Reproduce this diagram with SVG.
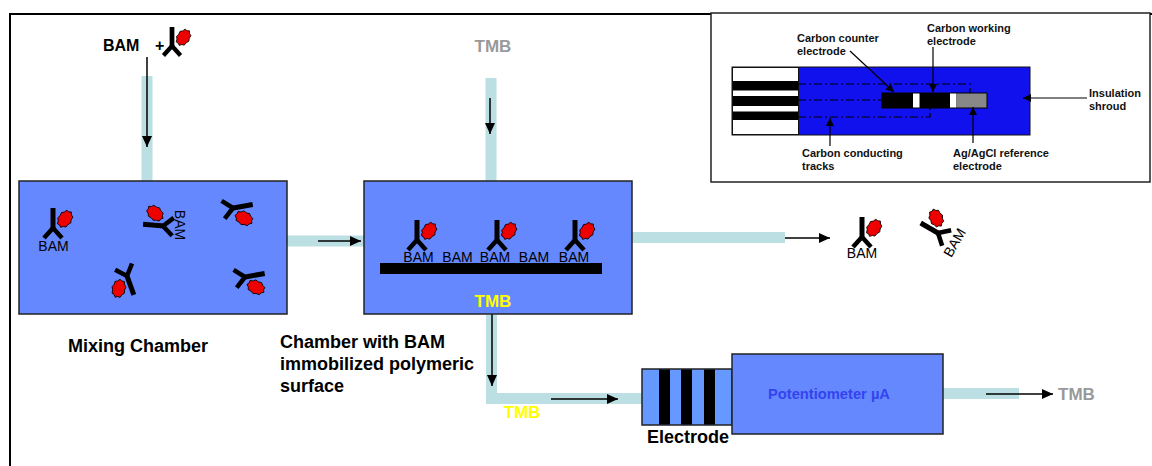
<svg xmlns="http://www.w3.org/2000/svg" xmlns:xlink="http://www.w3.org/1999/xlink" width="1152" height="466" viewBox="0 0 1152 466">
  <style>
    .box { fill: #6688FF; stroke: #222; stroke-width: 1.5; }
    .pipe { fill: none; stroke: #BCDFE3; stroke-width: 11; stroke-linejoin: miter; stroke-linecap: butt; }
    .arr { fill: none; stroke: #000; stroke-width: 1.5; marker-end: url(#ah); }
    .lead { fill: none; stroke: #000; stroke-width: 1.2; marker-end: url(#ahs); }
    .track { fill: none; stroke: #000; stroke-width: 1.2; stroke-dasharray: 8 3 2 3; }
    .lbl { font-family: "Liberation Sans", Arial, sans-serif; font-weight: bold; fill: #000; }
    .bam { font-family: "Liberation Sans", Arial, sans-serif; font-size: 14px; fill: #000; }
    .small { font-family: "Liberation Sans", Arial, sans-serif; font-size: 11px; font-weight: bold; fill: #111; }
    .tmbg { font-family: "Liberation Sans", Arial, sans-serif; font-size: 17px; font-weight: bold; fill: #999; }
    .tmby { font-family: "Liberation Sans", Arial, sans-serif; font-size: 17px; font-weight: bold; fill: #FFFF00; }
  </style>
  <defs>
    <marker id="ah" markerUnits="userSpaceOnUse" markerWidth="11" markerHeight="10" refX="11" refY="5" orient="auto">
      <path d="M0,0 L11,5 L0,10 Z" fill="#000"/>
    </marker>
    <marker id="ahs" markerUnits="userSpaceOnUse" markerWidth="8" markerHeight="8" refX="8" refY="4" orient="auto">
      <path d="M0,0 L8,4 L0,8 Z" fill="#000"/>
    </marker>
    <!-- antibody (Y) with bound antigen; origin at the fork -->
    <g id="ab">
      <line x1="0" y1="1" x2="0" y2="-20" stroke="#000" stroke-width="5"/>
      <line x1="0" y1="0" x2="-9" y2="10" stroke="#000" stroke-width="4.5"/>
      <line x1="0" y1="0" x2="9" y2="10" stroke="#000" stroke-width="4.5"/>
      <polygon transform="translate(12,-9) rotate(35)" fill="#EE0000" stroke="#000" stroke-width="0.8"
        points="7,0 5.59,2.77 5.36,6.11 2.98,7.01 1.22,9.36 -1.03,7.98 -3.5,8.23 -4.56,5.21 -6.58,3.25 -5.95,0 -6.58,-3.25 -4.56,-5.21 -3.5,-8.23 -1.03,-7.98 1.22,-9.36 2.98,-7.01 5.36,-6.11 5.59,-2.77"/>
    </g>
  </defs>

  <rect width="1152" height="466" fill="#fff"/>
  <!-- outer frame -->
  <path d="M10,466 V14 H1152" fill="none" stroke="#000" stroke-width="2"/>

  <!-- connectors -->
  <g id="connectors">
    <line class="pipe" x1="147" y1="76" x2="147" y2="181"/>
    <line class="arr" x1="147" y1="57" x2="147" y2="147"/>
    <line class="pipe" x1="491" y1="78" x2="491" y2="181"/>
    <line class="arr" x1="490" y1="98" x2="490" y2="134"/>
    <line class="pipe" x1="287" y1="241" x2="364" y2="241"/>
    <line class="arr" x1="318" y1="241" x2="361" y2="241"/>
    <line class="pipe" x1="632" y1="237.5" x2="785" y2="237.5"/>
    <line class="arr" x1="785" y1="238" x2="830" y2="238"/>
    <polyline class="pipe" points="491.5,315 491.5,398.5 643,398.5"/>
    <line class="arr" x1="492" y1="308" x2="492" y2="386"/>
    <line class="arr" x1="551" y1="399" x2="618" y2="399"/>
    <line class="pipe" x1="943" y1="393.5" x2="1019" y2="393.5"/>
    <line class="arr" x1="986" y1="394" x2="1053" y2="394"/>
  </g>

  <!-- BAM + antibody input -->
  <g id="input-bam">
    <text class="lbl" x="103" y="51" font-size="16">BAM</text>
    <text class="lbl" x="155" y="51" font-size="16">+</text>
    <use xlink:href="#ab" transform="translate(172,46) scale(0.95)"/>
  </g>

  <text id="input-tmb" class="tmbg" x="493" y="52" text-anchor="middle">TMB</text>

  <!-- mixing chamber -->
  <g id="mixing-chamber">
    <rect class="box" x="19" y="181" width="268" height="133"/>
    <use xlink:href="#ab" transform="translate(53,228)"/>
    <text class="bam" x="53.5" y="251" text-anchor="middle">BAM</text>
    <use xlink:href="#ab" transform="translate(163,226) rotate(-85)"/>
    <text class="bam" transform="translate(175,225) rotate(90)" text-anchor="middle">BAM</text>
    <use xlink:href="#ab" transform="translate(233,208) rotate(80)"/>
    <use xlink:href="#ab" transform="translate(127,276) rotate(160)"/>
    <use xlink:href="#ab" transform="translate(245,277) rotate(80)"/>
    <text class="lbl" x="68" y="352" font-size="18">Mixing Chamber</text>
  </g>

  <!-- chamber with immobilized surface -->
  <g id="bam-chamber">
    <rect class="box" x="364" y="181" width="268" height="133"/>
    <rect x="380" y="263" width="222" height="11" fill="#000"/>
    <use xlink:href="#ab" transform="translate(417,240)"/>
    <use xlink:href="#ab" transform="translate(497,240)"/>
    <use xlink:href="#ab" transform="translate(575,240)"/>
    <text class="bam" x="418.5" y="262" text-anchor="middle">BAM</text>
    <text class="bam" x="457.5" y="262" text-anchor="middle">BAM</text>
    <text class="bam" x="495" y="262" text-anchor="middle">BAM</text>
    <text class="bam" x="534" y="262" text-anchor="middle">BAM</text>
    <text class="bam" x="574" y="262" text-anchor="middle">BAM</text>
    <text class="tmby" x="493" y="307" text-anchor="middle">TMB</text>
    <text class="lbl" font-size="18">
      <tspan x="280" y="348">Chamber with BAM</tspan>
      <tspan x="280" y="370">immobilized polymeric</tspan>
      <tspan x="280" y="392">surface</tspan>
    </text>
  </g>

  <!-- unbound output -->
  <g id="output-bam">
    <use xlink:href="#ab" transform="translate(862,237)"/>
    <text class="bam" x="862" y="258" text-anchor="middle">BAM</text>
    <g transform="translate(938,233) rotate(-60)">
      <use xlink:href="#ab"/>
      <text class="bam" x="0" y="24" text-anchor="middle">BAM</text>
    </g>
  </g>

  <text id="tmb-mid" class="tmby" x="522" y="418" text-anchor="middle">TMB</text>

  <!-- electrode -->
  <g id="electrode">
    <rect x="642" y="369" width="90" height="56" fill="#6699FF" stroke="#222" stroke-width="1.5"/>
    <rect x="659" y="369.5" width="11" height="55" fill="#000"/>
    <rect x="681" y="369.5" width="11" height="55" fill="#000"/>
    <rect x="704" y="369.5" width="11" height="55" fill="#000"/>
    <text class="lbl" x="647" y="443" font-size="18">Electrode</text>
  </g>

  <!-- potentiometer -->
  <g id="potentiometer">
    <rect class="box" x="732" y="354" width="211" height="80"/>
    <text x="768" y="399" font-family="Liberation Sans, Arial, sans-serif" font-size="14" font-weight="bold" fill="#3344EE" textLength="122" lengthAdjust="spacingAndGlyphs">Potentiometer µA</text>
  </g>

  <text id="tmb-out" class="tmbg" x="1058" y="400">TMB</text>

  <!-- screen-printed electrode detail -->
  <g id="sensor-detail">
    <rect x="711" y="13" width="439" height="169" fill="#fff" stroke="#222" stroke-width="1.5"/>
    <rect x="732" y="67" width="298" height="68" fill="#1111EE" stroke="#111" stroke-width="1"/>
    <rect x="732.5" y="67.5" width="66" height="67" fill="#fff" stroke="#111" stroke-width="1"/>
    <rect x="733" y="81" width="65" height="9.5" fill="#000"/>
    <rect x="733" y="96" width="65" height="10" fill="#000"/>
    <rect x="733" y="111.5" width="65" height="8.5" fill="#000"/>
    <polyline class="track" points="798,84 970,84 970,93"/>
    <line class="track" x1="798" y1="100" x2="882" y2="100"/>
    <polyline class="track" points="798,117 930,117 930,108"/>
    <rect x="882" y="93" width="105" height="15" fill="#000" stroke="#000" stroke-width="1"/>
    <rect x="913" y="93.5" width="6.5" height="14" fill="#fff"/>
    <rect x="950" y="93.5" width="6.5" height="14" fill="#fff"/>
    <rect x="957" y="93.5" width="29.5" height="14" fill="#888"/>
    <line class="lead" x1="850" y1="51" x2="894" y2="92"/>
    <line class="lead" x1="933" y1="47" x2="933" y2="92"/>
    <line class="lead" x1="1087" y1="98" x2="1023" y2="98"/>
    <line class="lead" x1="830" y1="146" x2="830" y2="118"/>
    <line class="lead" x1="973" y1="143" x2="973" y2="107"/>
    <text class="small"><tspan x="797" y="42">Carbon counter</tspan><tspan x="797" y="55">electrode</tspan></text>
    <text class="small"><tspan x="927" y="32">Carbon working</tspan><tspan x="927" y="45">electrode</tspan></text>
    <text class="small"><tspan x="1089" y="97">Insulation</tspan><tspan x="1089" y="110">shroud</tspan></text>
    <text class="small"><tspan x="802" y="157">Carbon conducting</tspan><tspan x="802" y="170">tracks</tspan></text>
    <text class="small"><tspan x="953" y="157">Ag/AgCl reference</tspan><tspan x="953" y="170">electrode</tspan></text>
  </g>
</svg>
